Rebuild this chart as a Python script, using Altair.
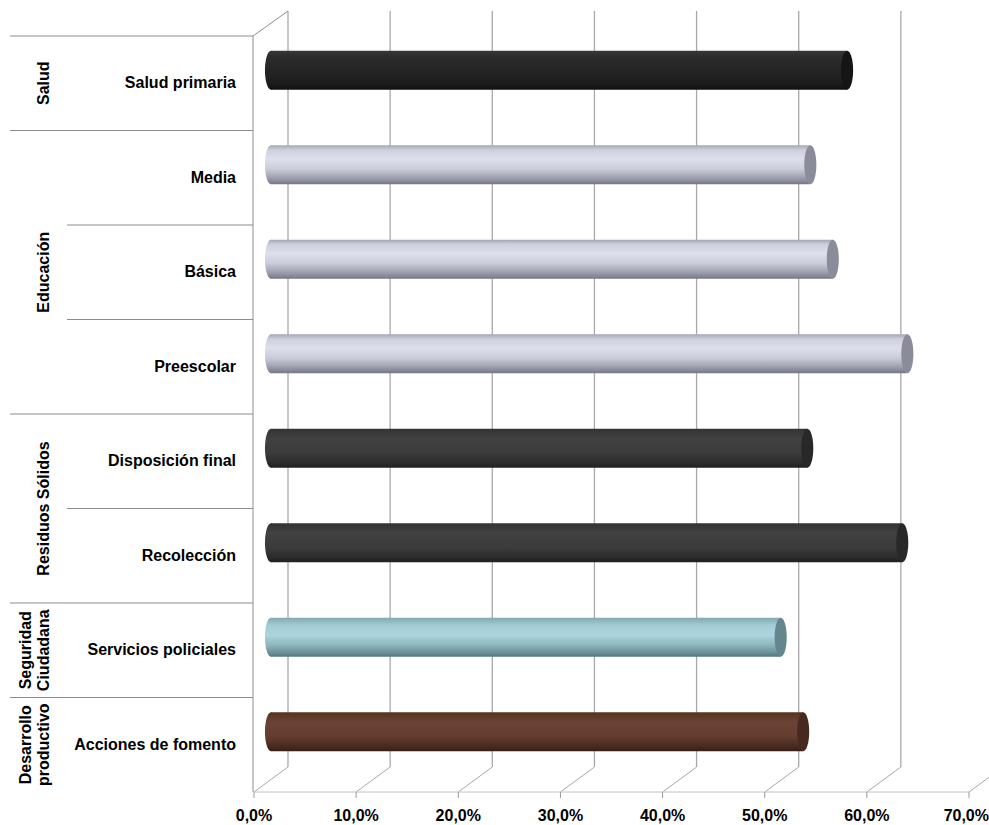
import altair as alt
import pandas as pd

# Subcategories (top to bottom), the sector each belongs to, and coverage share
categorias = ["Salud primaria", "Media", "Básica", "Preescolar",
              "Disposición final", "Recolección", "Servicios policiales",
              "Acciones de fomento"]
grupos = ["Salud", "Educación", "Educación", "Educación",
          "Residuos Sólidos", "Residuos Sólidos", "Seguridad Ciudadana",
          "Desarrollo productivo"]
valores = [0.564, 0.528, 0.550, 0.623, 0.525, 0.618, 0.499, 0.521]
marcas_eje = [0.0, 0.1, 0.2, 0.3, 0.4, 0.5, 0.6, 0.7]

# Sector labels, broken into lines
lineas_grupo = {
    "Salud": ["Salud"],
    "Educación": ["Educación"],
    "Residuos Sólidos": ["Residuos Sólidos"],
    "Seguridad Ciudadana": ["Seguridad", "Ciudadana"],
    "Desarrollo productivo": ["Desarrollo", "productivo"],
}

# Cylinder shading per sector: vertical gradient stops and end-cap colour
estilos = {
    "Salud": ([(0, "#383838"), (0.15, "#2c2c2c"), (0.5, "#252525"),
               (0.85, "#1b1b1b"), (1, "#101010")], "#151515"),
    "Educación": ([(0, "#a4a6b4"), (0.12, "#cdcfdc"), (0.35, "#dedfeb"),
                   (0.6, "#cbcdda"), (0.8, "#a5a7b5"), (0.93, "#878996"),
                   (1, "#74768a")], "#8a8c9a"),
    "Residuos Sólidos": ([(0, "#333333"), (0.25, "#414141"), (0.6, "#3c3c3c"),
                          (0.85, "#2e2e2e"), (1, "#1f1f1f")], "#282828"),
    "Seguridad Ciudadana": ([(0, "#82a9b2"), (0.2, "#a3ccd6"), (0.45, "#acd5de"),
                             (0.7, "#8fb5bd"), (0.9, "#6a8f97"), (1, "#557780")],
                            "#64878f"),
    "Desarrollo productivo": ([(0, "#55331f"), (0.25, "#6b4335"), (0.6, "#643e31"),
                               (0.85, "#4b2c21"), (1, "#381e15")], "#462a20"),
}

FUENTE = "Liberation Sans"
ANCHO, ALTO = 715, 756
DX, DY = 34, -25            # depth of the 3-D box (back wall offset)
MX, MY = 17, -13            # cylinders sit half way into the box
GROSOR = 39                 # cylinder diameter in px
LINEA = "#8c8c8c"
REJILLA = "#a8a8a8"
N = len(categorias)

# Ellipse used for the cylinder end caps (unit square, rx = 0.31)
ELIPSE = ("M0,-1 C0.171,-1 0.31,-0.552 0.31,0 C0.31,0.552 0.171,1 0,1 "
          "C-0.171,1 -0.31,0.552 -0.31,0 C-0.31,-0.552 -0.171,-1 0,-1 Z")

filas = pd.DataFrame({"categoria": categorias, "grupo": grupos, "valor": valores})
filas["fila"] = range(N)
filas["centro"] = filas["fila"] + 0.5
filas["primera"] = filas["grupo"] != filas["grupo"].shift()

# One row per line of each sector label, centred on the sector's rows
orden = list(dict.fromkeys(grupos))
registros = []
for g in orden:
    centro = (grupos.index(g) + N - grupos[::-1].index(g)) / 2
    lineas = lineas_grupo[g]
    for k, texto in enumerate(lineas):
        registros.append({"grupo": g, "centro": centro, "texto": texto,
                          "ultima": k == len(lineas) - 1})
lineas_df = pd.DataFrame(registros)

marcas_df = pd.DataFrame({"marca": marcas_eje})
marcas_df["rotulo"] = [f"{m * 100:.1f}%".replace(".", ",") for m in marcas_eje]
marcas_df["extremo"] = marcas_df["marca"] == max(marcas_eje)

SX = alt.Scale(domain=[0, 0.7], nice=False, zero=True, padding=0)
SY = alt.Scale(domain=[0, N], nice=False, zero=False, reverse=True, padding=0)

# Back wall gridlines
rejilla = alt.Chart(marcas_df).mark_rule(
    color=REJILLA, strokeWidth=1.3, xOffset=DX, yOffset=DY, y2Offset=DY
).encode(
    x=alt.X("marca:Q", scale=SX, axis=None),
    y=alt.YDatum(0, scale=SY, axis=None),
    y2=alt.Y2Datum(N),
)

# Floor edges running from the front axis to the back wall
suelo = alt.Chart(marcas_df).mark_rule(
    color=REJILLA, strokeWidth=1, x2Offset=DX, y2Offset=DY
).encode(
    x=alt.X("marca:Q", scale=SX, axis=None),
    x2=alt.X2("marca:Q"),
    y=alt.YDatum(N, scale=SY, axis=None),
    y2=alt.Y2Datum(N),
)

# Front axis: baseline, ticks and percentage labels
base_eje = alt.Chart(marcas_df.head(1)).mark_rule(color="#c4c4c4", strokeWidth=1).encode(
    x=alt.XDatum(0, scale=SX, axis=None),
    x2=alt.X2Datum(0.7),
    y=alt.YDatum(N, scale=SY, axis=None),
)
ticks = alt.Chart(marcas_df).mark_rule(color="#9a9a9a", strokeWidth=1, y2Offset=6).encode(
    x=alt.X("marca:Q", scale=SX, axis=None),
    y=alt.YDatum(N, scale=SY, axis=None),
    y2=alt.Y2Datum(N),
)
estilo_rotulo = dict(baseline="middle", dy=24, font=FUENTE, fontSize=16,
                     fontWeight="bold", color="#000000")
textos_eje = alt.Chart(marcas_df).transform_filter("!datum.extremo").mark_text(
    align="center", **estilo_rotulo
).encode(
    x=alt.X("marca:Q", scale=SX, axis=None),
    y=alt.YDatum(N, scale=SY, axis=None),
    text="rotulo:N",
)
# the last label is kept inside the right edge
texto_final = alt.Chart(marcas_df).transform_filter("datum.extremo").mark_text(
    align="right", dx=20, **estilo_rotulo
).encode(
    x=alt.X("marca:Q", scale=SX, axis=None),
    y=alt.YDatum(N, scale=SY, axis=None),
    text="rotulo:N",
)

# Left side wall: front edge and top edge
pared = alt.Chart(marcas_df.head(1)).mark_rule(color=LINEA, strokeWidth=1, xOffset=-1).encode(
    x=alt.XDatum(0, scale=SX, axis=None),
    y=alt.YDatum(0, scale=SY, axis=None),
    y2=alt.Y2Datum(N),
)
techo = alt.Chart(marcas_df.head(1)).mark_rule(
    color=LINEA, strokeWidth=1, xOffset=-1, x2Offset=DX, y2Offset=DY
).encode(
    x=alt.XDatum(0, scale=SX, axis=None),
    x2=alt.X2Datum(0),
    y=alt.YDatum(0, scale=SY, axis=None),
    y2=alt.Y2Datum(0),
)

base = alt.Chart(filas)

# Row separators in the category area: full width at sector starts
sep_sector = base.transform_filter("datum.primera").mark_rule(
    color=LINEA, strokeWidth=1
).encode(
    x=alt.value(-244), x2=alt.value(-1),
    y=alt.Y("fila:Q", scale=SY, axis=None),
)
sep_sub = base.transform_filter("!datum.primera").mark_rule(
    color=LINEA, strokeWidth=1
).encode(
    x=alt.value(-187), x2=alt.value(-1),
    y=alt.Y("fila:Q", scale=SY, axis=None),
)

etiquetas = base.mark_text(
    align="right", baseline="middle", font=FUENTE, fontSize=16,
    fontWeight="bold", color="#000000"
).encode(
    x=alt.value(-18),
    y=alt.Y("centro:Q", scale=SY, axis=None),
    text="categoria:N",
)

# Vertical sector labels: last line nearest the subcategories
estilo_sector = dict(angle=270, align="center", baseline="bottom",
                     font=FUENTE, fontSize=16, fontWeight="bold", color="#000000")
sector_ult = alt.Chart(lineas_df).transform_filter("datum.ultima").mark_text(
    **estilo_sector
).encode(
    x=alt.value(-202),
    y=alt.Y("centro:Q", scale=SY, axis=None),
    text="texto:N",
)
sector_prev = alt.Chart(lineas_df).transform_filter("!datum.ultima").mark_text(
    **estilo_sector
).encode(
    x=alt.value(-220),
    y=alt.Y("centro:Q", scale=SY, axis=None),
    text="texto:N",
)

capas = [rejilla, suelo, base_eje, ticks, textos_eje, texto_final, pared, techo,
         sep_sector, sep_sub, etiquetas, sector_ult, sector_prev]

for g, (paradas, tapa_color) in estilos.items():
    degradado = alt.LinearGradient(
        gradient="linear",
        stops=[alt.GradientStop(color=c, offset=o) for o, c in paradas],
        x1=0, x2=0, y1=0, y2=1,
    )
    sub = base.transform_filter(alt.datum.grupo == g)
    # rounded left end of the cylinder
    inicio = sub.mark_point(
        shape=ELIPSE, size=GROSOR ** 2, filled=True, fill=degradado,
        opacity=1, strokeWidth=0, xOffset=MX, yOffset=MY
    ).encode(
        x=alt.XDatum(0, scale=SX, axis=None),
        y=alt.Y("centro:Q", scale=SY, axis=None),
    )
    cuerpo = sub.mark_bar(
        orient="horizontal", size=GROSOR, fill=degradado,
        xOffset=MX, x2Offset=MX, yOffset=MY, y2Offset=MY
    ).encode(
        x=alt.X("valor:Q", scale=SX, axis=None),
        y=alt.Y("centro:Q", scale=SY, axis=None),
    )
    # visible end face at the value
    tapa = sub.mark_point(
        shape=ELIPSE, size=GROSOR ** 2, filled=True, fill=tapa_color,
        color=tapa_color, opacity=1, strokeWidth=0, xOffset=MX, yOffset=MY
    ).encode(
        x=alt.X("valor:Q", scale=SX, axis=None),
        y=alt.Y("centro:Q", scale=SY, axis=None),
    )
    capas += [inicio, cuerpo, tapa]

chart = alt.layer(*capas).properties(
    width=ANCHO, height=ALTO,
    padding={"left": 254, "top": 36, "right": 20, "bottom": 33},
    autosize=alt.AutoSizeParams(type="none"),
    background="#ffffff",
).configure_view(strokeWidth=0)

chart.save("out.html", embed_options={"renderer": "svg", "actions": False})
